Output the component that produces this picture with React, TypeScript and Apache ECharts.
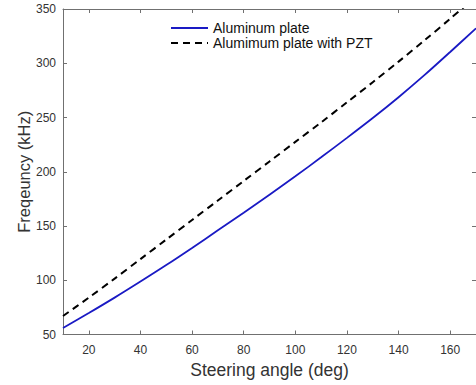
import { useEffect, useRef } from "react";
import * as echarts from "echarts";

const angles = [10, 20, 30, 40, 50, 60, 70, 80, 90, 100, 110, 120, 130, 140, 150, 160, 170];
const aluminum = [56.0, 69.8, 84.0, 98.8, 114.0, 129.8, 146.0, 162.3, 178.9, 195.8, 213.3, 231.2, 249.5, 268.7, 289.0, 310.4, 332.2];
const withPzt = [67.0, 84.0, 101.5, 119.5, 137.5, 155.5, 173.5, 191.5, 209.5, 227.5, 245.5, 264.0, 282.5, 301.5, 321.0, 341.0, 361.3];
const xTicks = [20, 40, 60, 80, 100, 120, 140, 160];
const seriesNames = ["Aluminum plate", "Alumimum plate with PZT"];
const xTitle = "Steering angle (deg)";
const yTitle = "Freqeuncy (kHz)";

export default function App() {
  const ref = useRef<HTMLDivElement>(null);
  useEffect(() => {
    const chart = echarts.init(ref.current!, null, { renderer: "svg" });
    const font = "'Liberation Sans', Arial, sans-serif";
    const axisColor = "#707070";
    const lineAxis = { show: true, lineStyle: { color: axisColor, width: 1 } };
    chart.setOption({
      animation: false,
      backgroundColor: "#ffffff",
      grid: { left: 63, top: 9, width: 415, height: 325.5, containLabel: false },
      legend: {
        orient: "vertical",
        left: 170,
        top: 21,
        padding: 0,
        itemWidth: 37,
        itemHeight: 10,
        itemGap: 1,
        data: seriesNames,
        itemStyle: { opacity: 0 },
        textStyle: { fontSize: 14, fontFamily: font, color: "#111", lineHeight: 14 },
      },
      xAxis: [
        {
          type: "value",
          min: 10,
          max: 170,
          position: "bottom",
          axisLine: lineAxis,
          axisTick: { show: true, inside: true, length: 4, customValues: xTicks, lineStyle: { color: axisColor } },
          axisLabel: { customValues: xTicks, color: "#333", fontSize: 12, fontFamily: font, margin: 9 },
          splitLine: { show: false },
          name: xTitle,
          nameLocation: "middle",
          nameGap: 26,
          nameMoveOverlap: false,
          nameTextStyle: { fontSize: 17.5, fontFamily: font, color: "#333" },
        },
        {
          type: "value",
          min: 10,
          max: 170,
          position: "top",
          axisLine: lineAxis,
          axisTick: { show: true, inside: true, length: 4, customValues: xTicks, lineStyle: { color: axisColor } },
          axisLabel: { show: false },
          splitLine: { show: false },
        },
      ],
      yAxis: [
        {
          type: "value",
          min: 50,
          max: 350,
          interval: 50,
          position: "left",
          axisLine: lineAxis,
          axisTick: { show: true, inside: true, length: 4, lineStyle: { color: axisColor } },
          axisLabel: { color: "#333", fontSize: 12, fontFamily: font, margin: 7 },
          splitLine: { show: false },
          name: yTitle,
          nameLocation: "middle",
          nameGap: 31,
          nameMoveOverlap: false,
          nameTextStyle: { fontSize: 16.5, fontFamily: font, color: "#333" },
        },
        {
          type: "value",
          min: 50,
          max: 350,
          interval: 50,
          position: "right",
          axisLine: lineAxis,
          axisTick: { show: true, inside: true, length: 4, lineStyle: { color: axisColor } },
          axisLabel: { show: false },
          splitLine: { show: false },
        },
      ],
      series: [
        {
          name: seriesNames[0],
          type: "line",
          data: angles.map((a, i) => [a, aluminum[i]]),
          symbol: "none",
          smooth: 0.3,
          clip: true,
          color: "#1a1ac4",
          lineStyle: { color: "#1a1ac4", width: 1.8 },
        },
        {
          name: seriesNames[1],
          type: "line",
          data: angles.map((a, i) => [a, withPzt[i]]),
          symbol: "none",
          smooth: 0.3,
          clip: true,
          color: "#000000",
          lineStyle: { color: "#000000", width: 2, type: [7, 5] },
        },
      ],
    });
    return () => chart.dispose();
  }, []);
  return <div ref={ref} style={{ position: "fixed", left: 0, top: 0, width: 476, height: 385 }} />;
}
